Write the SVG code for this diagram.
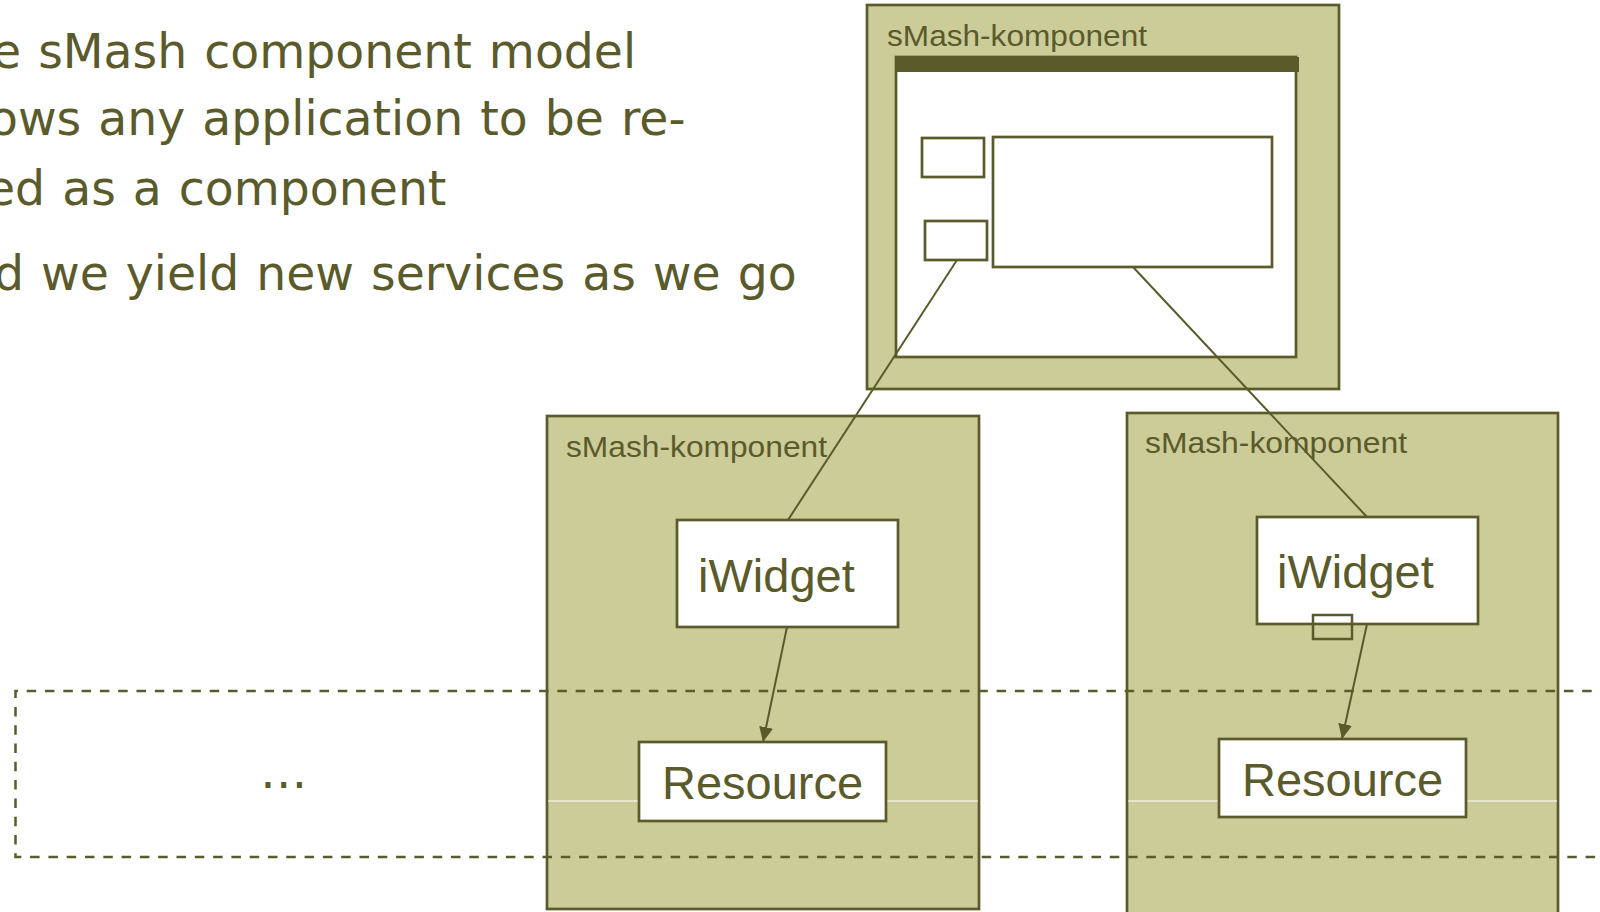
<svg xmlns="http://www.w3.org/2000/svg" width="1600" height="912" viewBox="0 0 1600 912">
  <style>
    .body { font-family: "DejaVu Sans", Verdana, sans-serif; font-size: 47.3px; fill: #5a5a2b; word-spacing: 2px; }
    .comp { fill: #cccc99; stroke: #5a5a2b; stroke-width: 2.7; }
    .box { fill: #ffffff; stroke: #5a5a2b; stroke-width: 2.7; }
    .port { fill: none; stroke: #5a5a2b; stroke-width: 2.5; }
    .lbl { font-family: "Liberation Sans", Arial, sans-serif; font-size: 29px; fill: #5a5a2b; }
    .big { font-family: "Liberation Sans", Arial, sans-serif; font-size: 47px; fill: #5a5a2b; }
    .sep { stroke: #ffffff; stroke-width: 1.2; }
    .conn { stroke: #5a5a2b; stroke-width: 2; fill: none; }
    .dash { fill: none; stroke: #5a5a2b; stroke-width: 2.5; stroke-dasharray: 9.5 8.8; }
  </style>
  <defs>
    <marker id="arrow" markerUnits="userSpaceOnUse" markerWidth="16" markerHeight="15" refX="15" refY="7" orient="auto">
      <path d="M0,0 L15,7 L0,14 z" fill="#5a5a2b"/>
    </marker>
  </defs>
  <rect width="1600" height="912" fill="#ffffff"/>

  <g id="bullet-text">
    <text class="body" x="-8" y="68">e sMash component model</text>
    <text class="body" x="-11" y="135">ows any application to be re-</text>
    <text class="body" x="-14" y="205">ed as a component</text>
    <text class="body" x="-6" y="290">d we yield new services as we go</text>
  </g>

  <g id="top-component">
    <rect class="comp" x="867" y="5" width="472" height="384"/>
    <text class="lbl" x="887" y="46" textLength="260" lengthAdjust="spacingAndGlyphs">sMash-komponent</text>
    <rect class="box" x="896" y="57" width="400" height="300"/>
    <rect x="895" y="57" width="404" height="15" fill="#5a5a2b"/>
    <rect class="box" x="922" y="138" width="62" height="39"/>
    <rect class="box" x="925" y="221" width="62" height="39"/>
    <rect class="box" x="993" y="137" width="279" height="130"/>
  </g>

  <g id="left-component">
    <rect class="comp" x="547" y="416" width="432" height="493"/>
    <line class="sep" x1="548" y1="801" x2="978" y2="801"/>
    <text class="lbl" x="566" y="457" textLength="261" lengthAdjust="spacingAndGlyphs">sMash-komponent</text>
  </g>

  <g id="right-component">
    <rect class="comp" x="1127" y="413" width="431" height="510"/>
    <line class="sep" x1="1128" y1="801" x2="1557" y2="801"/>
    <text class="lbl" x="1145" y="453" textLength="262" lengthAdjust="spacingAndGlyphs">sMash-komponent</text>
  </g>

  <g id="left-iwidget">
    <rect class="box" x="677" y="520" width="221" height="107"/>
    <text class="big" x="698" y="592">iWidget</text>
  </g>
  <g id="left-resource">
    <rect class="box" x="639" y="742" width="247" height="79"/>
    <text class="big" x="662" y="799">Resource</text>
  </g>

  <g id="right-iwidget">
    <rect class="box" x="1257" y="517" width="221" height="107"/>
    <text class="big" x="1277" y="588">iWidget</text>
    <rect class="port" x="1313" y="615" width="39" height="24"/>
  </g>
  <g id="right-resource">
    <rect class="box" x="1219" y="739" width="247" height="78"/>
    <text class="big" x="1242" y="796">Resource</text>
  </g>

  <g id="connectors">
    <line class="conn" x1="957" y1="260" x2="788" y2="520"/>
    <line class="conn" x1="1133" y1="267" x2="1367" y2="517"/>
    <line class="conn" x1="787" y1="627" x2="763" y2="742" marker-end="url(#arrow)"/>
    <line class="conn" x1="1367" y1="624" x2="1342" y2="739" marker-end="url(#arrow)"/>
  </g>

  <g id="layer">
    <path class="dash" d="M1610,691 L15.5,691 L15.5,857 L1610,857"/>
    <text class="body" x="260" y="788">…</text>
  </g>
</svg>
